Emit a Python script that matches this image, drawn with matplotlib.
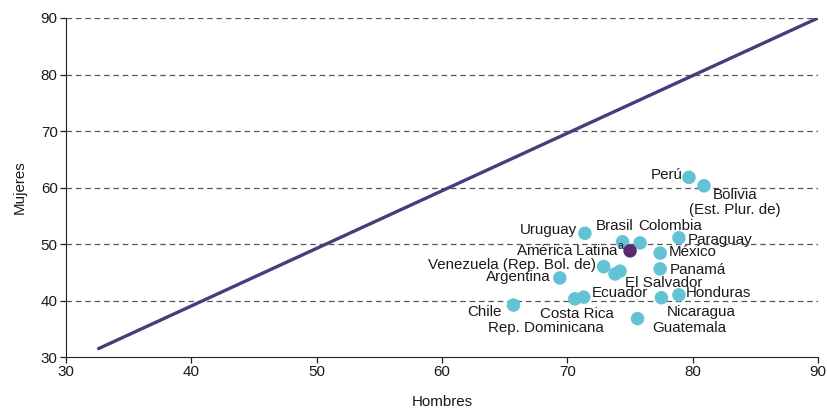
import numpy as np
import matplotlib.pyplot as plt

plt.rcParams['font.family'] = ['Liberation Sans', 'DejaVu Sans']

# Data (hombres, mujeres)
paises = ['Perú', 'Bolivia\n(Est. Plur. de)', 'Uruguay', 'Brasil', 'Colombia', 'Paraguay',
          'México', 'Venezuela (Rep. Bol. de)', 'El Salvador', 'Rep. Dominicana', 'Panamá',
          'Argentina', 'Costa Rica', 'Ecuador', 'Nicaragua', 'Honduras', 'Chile', 'Guatemala']
hombres = [79.7, 80.9, 71.4, 74.4, 75.8, 78.9,
           77.4, 72.9, 74.2, 73.8, 77.4,
           69.4, 70.6, 71.3, 77.5, 78.9, 65.7, 75.6]
mujeres = [61.8, 60.3, 51.9, 50.4, 50.2, 51.1,
           48.4, 46.0, 45.2, 44.7, 45.6,
           44.0, 40.3, 40.6, 40.5, 41.0, 39.2, 36.8]

al_label = 'América Latina$^{\\mathregular{a}}$'
al_h = 75.0
al_m = 48.8

linea_x = [32.6, 90]
linea_y = [31.5, 90]

# label offsets in pixels (dx, dy, ha, va)
offs = {
    'Perú': (-6, 2, 'right', 'center'),
    'Bolivia\n(Est. Plur. de)': (31, -2, 'center', 'top'),
    'Uruguay': (-8, 3, 'right', 'center'),
    'Brasil': (-8, 16, 'center', 'center'),
    'Colombia': (-2, 17, 'left', 'center'),
    'Paraguay': (9, -2, 'left', 'center'),
    'México': (9, 1, 'left', 'center'),
    'Venezuela (Rep. Bol. de)': (-8, 2, 'right', 'center'),
    'El Salvador': (5, -12, 'left', 'center'),
    'Rep. Dominicana': (-69, -54, 'center', 'center'),
    'Panamá': (10, -1, 'left', 'center'),
    'Argentina': (-9, 1, 'right', 'center'),
    'Costa Rica': (2, -15, 'center', 'center'),
    'Ecuador': (8, 4, 'left', 'center'),
    'Nicaragua': (40, -14, 'center', 'center'),
    'Honduras': (7, 2, 'left', 'center'),
    'Chile': (-12, -7, 'right', 'center'),
    'Guatemala': (15, -9, 'left', 'center'),
}

fig = plt.figure(figsize=(8.28, 4.09), dpi=100)
ax = fig.add_axes([0.0797, 0.127, 0.9083, 0.829])

ax.plot(linea_x, linea_y, color='#4a3b7c', lw=2.4, solid_capstyle='round', zorder=2)
ax.scatter(hombres, mujeres, s=95, color='#62c3d5', edgecolors='none', zorder=3)
ax.scatter([al_h], [al_m], s=95, color='#5c2b6e', edgecolors='none', zorder=4)

fs = 10.9
for p, h, m in zip(paises, hombres, mujeres):
    dx, dy, ha, va = offs[p]
    ax.annotate(p, (h, m), xytext=(dx, dy), textcoords='offset pixels',
                ha=ha, va=va, fontsize=fs, color='#1a1a1a', linespacing=1.1, zorder=5)
ax.annotate(al_label, (al_h, al_m), xytext=(-5, 1), textcoords='offset pixels',
            ha='right', va='center', fontsize=fs, color='#1a1a1a', zorder=5)

ax.set_xlim(30, 90)
ax.set_ylim(30, 90)
ax.set_xticks(np.arange(30, 91, 10))
ax.set_yticks(np.arange(30, 91, 10))
for yv in range(40, 91, 10):
    ax.axhline(yv, color='#555555', lw=0.9, linestyle=(0, (4.5, 3)), zorder=1)

ax.spines['top'].set_visible(False)
ax.spines['right'].set_visible(False)
ax.spines['left'].set_color('#222222')
ax.spines['bottom'].set_color('#222222')
ax.tick_params(axis='both', labelsize=fs, length=4, width=0.9, color='#222222',
               labelcolor='#1a1a1a', pad=2)

ax.set_xlabel('Hombres', fontsize=fs, color='#1a1a1a', labelpad=11)
ax.set_ylabel('Mujeres', fontsize=fs, color='#1a1a1a', labelpad=10)

plt.savefig('out.png', dpi=100)
